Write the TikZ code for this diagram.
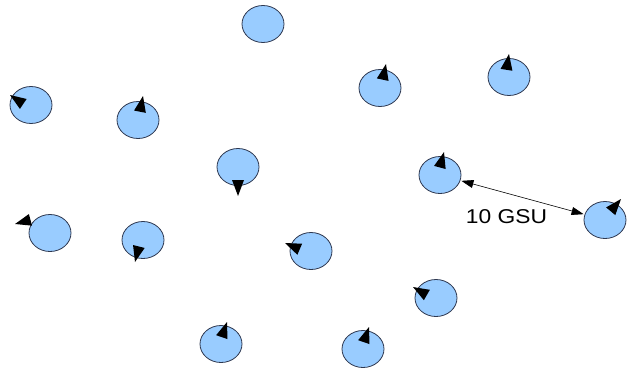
\documentclass[tikz,border=0pt]{standalone}
\usepackage{fontspec}
\setmainfont{Liberation Sans}
\usetikzlibrary{shapes.geometric,arrows.meta}
\definecolor{cfill}{HTML}{99CCFF}
\definecolor{cline}{HTML}{2E3850}
\tikzset{
  agent/.style={ellipse, draw=cline, line width=0.8pt, fill=cfill, minimum width=42pt, minimum height=37pt, inner sep=0pt},
  headtri/.style={fill=black},
  dist/.style={line width=0.6pt, {Triangle[length=12pt,width=8pt]}-{Triangle[length=12pt,width=8pt]}, shorten <=1pt, shorten >=1pt}
}
\newcommand{\headmark}[3]{\fill[headtri, shift={(#1,#2)}, rotate=#3] (0,0) -- (-16,-6) -- (-16,6) -- cycle;}
\begin{document}
\begin{tikzpicture}[x=1pt,y=-1pt]
\useasboundingbox (0,0) rectangle (629,370);
\node[agent] (c1) at (263,24) {};
\node[agent] (c2) at (31,105) {};
\node[agent] (c3) at (138,120) {};
\node[agent] (c4) at (238,167) {};
\node[agent] (c5) at (380,88) {};
\node[agent] (c6) at (509,77) {};
\node[agent] (c7) at (440,175) {};
\node[agent] (c8) at (605,220) {};
\node[agent] (c9) at (50,233) {};
\node[agent] (c10) at (143,240) {};
\node[agent] (c11) at (311,251) {};
\node[agent] (c12) at (436,298) {};
\node[agent] (c13) at (221,344) {};
\node[agent] (c14) at (363,349) {};
\headmark{10}{95}{146}
\headmark{143}{96}{79}
\headmark{238}{196}{-90}
\headmark{386}{64}{78}
\headmark{509}{54}{81}
\headmark{444}{152}{75}
\headmark{621}{199}{50}
\headmark{15}{224}{195}
\headmark{135}{262}{-104}
\headmark{285}{243}{157}
\headmark{413}{287}{150}
\headmark{227}{322}{71}
\headmark{369}{327}{71}
\draw[dist] (c7) -- (c8);
\node[anchor=base, inner sep=0pt, xscale=1.14, font=\fontsize{20}{21}\selectfont] (lbl) at (506.5,223.5) {10 GSU};
\end{tikzpicture}
\end{document}
